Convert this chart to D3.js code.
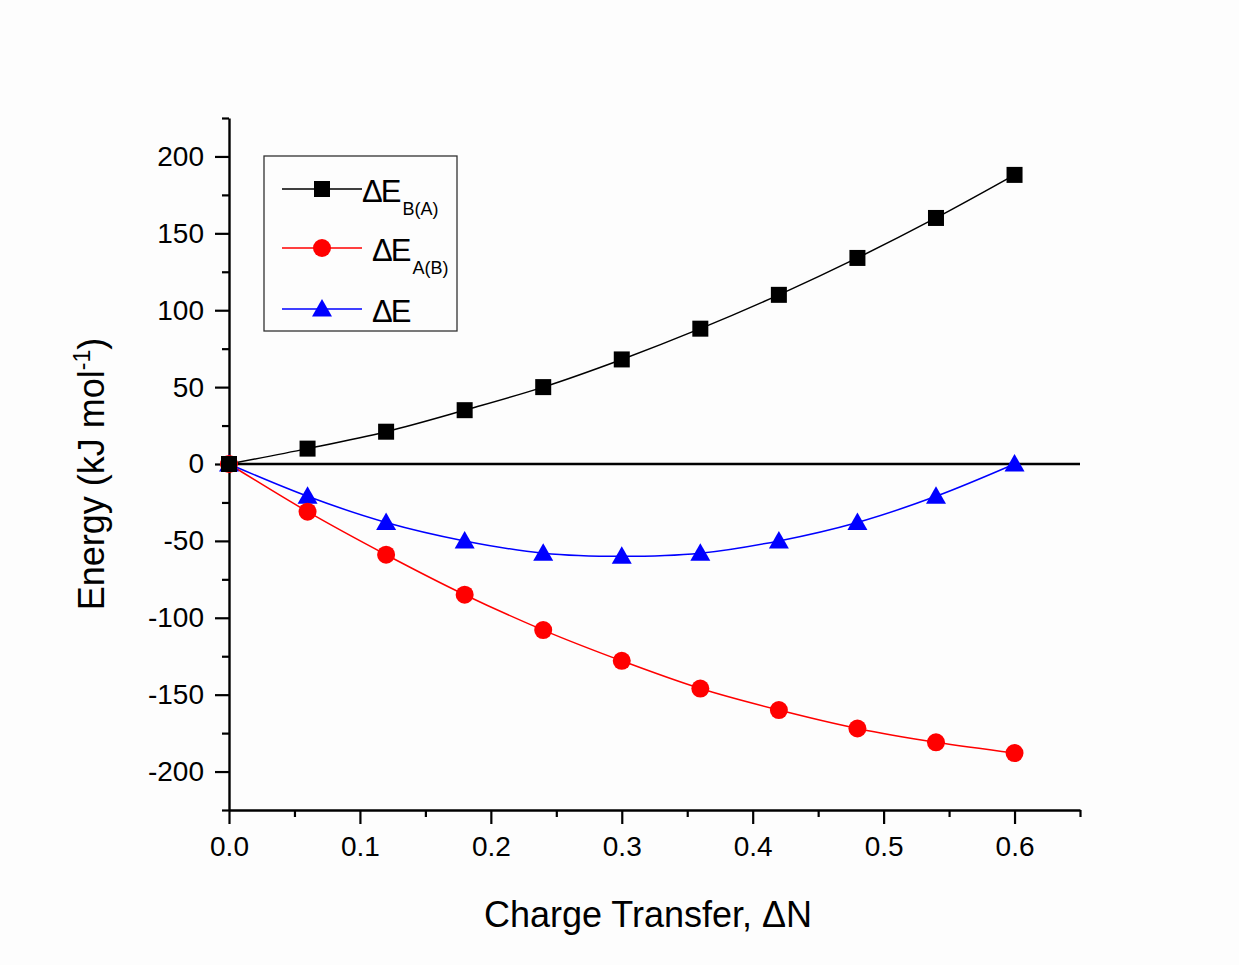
<!DOCTYPE html>
<html>
<head>
<meta charset="utf-8">
<script src="https://cdn.jsdelivr.net/npm/d3@7"></script>
<style>
    body { margin: 0; background: #fdfdfd; }
    svg { display: block; font-family: "Liberation Sans", Arial, sans-serif; }
</style>
</head>
<body>
<div id="chart"></div>
<script>
    // charge transfer values
    const deltaN = [0, 0.06, 0.12, 0.18, 0.24, 0.30, 0.36, 0.42, 0.48, 0.54, 0.60];
    // series values (kJ/mol)
    const eBA = [0, 10, 21, 35, 50, 68, 88, 110, 134, 160, 188];
    const eAB = [0, -31, -59, -85, -108, -128, -146, -160, -172, -181, -188];
    const eTot = [0, -21, -38, -50, -58, -60, -58, -50, -38, -21, 0];

    const xTicks = [0, 0.1, 0.2, 0.3, 0.4, 0.5, 0.6];
    const yTicks = [-200, -150, -100, -50, 0, 50, 100, 150, 200];

    let width = 1239, height = 965;
    const margin = { left: 229, right: 1239 - 1080, top: 118, bottom: 965 - 810 };

    const series = [
        { name: "B(A)", values: eBA, color: "#000000", shape: "square" },
        { name: "A(B)", values: eAB, color: "#ff0000", shape: "circle" },
        { name: "", values: eTot, color: "#0000ff", shape: "triangle" }
    ];

    const svg = d3.select("#chart")
        .append("svg")
        .attr("width", width)
        .attr("height", height);

    const x = d3.scaleLinear().domain([0, 0.65]).range([margin.left, width - margin.right]);
    const y = d3.scaleLinear().domain([-225, 225]).range([height - margin.bottom, margin.top]);

    // axes
    svg.append("g")
        .attr("transform", `translate(0,${height - margin.bottom})`)
        .call(d3.axisBottom(x).tickValues(xTicks).tickFormat(d3.format(".1f")).tickSize(14).tickSizeOuter(0).tickPadding(12));
    svg.append("g")
        .attr("transform", `translate(0,${height - margin.bottom})`)
        .call(d3.axisBottom(x).tickValues(d3.range(0.05, 0.66, 0.1)).tickFormat("").tickSize(7).tickSizeOuter(0))
        .select(".domain").remove();

    svg.append("g")
        .attr("transform", `translate(${margin.left},0)`)
        .call(d3.axisLeft(y).tickValues(yTicks).tickFormat(d => String(d)).tickSize(14).tickSizeOuter(0).tickPadding(11));
    svg.append("g")
        .attr("transform", `translate(${margin.left},0)`)
        .call(d3.axisLeft(y).tickValues(d3.range(-225, 226, 50)).tickFormat("").tickSize(7).tickSizeOuter(0))
        .select(".domain").remove();

    svg.selectAll(".domain").attr("stroke-width", 2.4);
    svg.selectAll(".tick line").attr("stroke-width", 2.2);
    svg.selectAll(".tick text").attr("font-size", 28).attr("fill", "#000");

    // zero line
    svg.append("line")
        .attr("x1", x(0)).attr("x2", x(0.65))
        .attr("y1", y(0)).attr("y2", y(0))
        .attr("stroke", "#000")
        .attr("stroke-width", 2.4);

    const line = d3.line()
        .x((d, i) => x(deltaN[i]))
        .y(d => y(d))
        .curve(d3.curveCatmullRom.alpha(0.5));

    function drawMarker(sel, shape, color) {
        if (shape === "square") {
            sel.append("rect").attr("x", -8).attr("y", -8).attr("width", 16).attr("height", 16).attr("fill", color);
        } else if (shape === "circle") {
            sel.append("circle").attr("r", 9).attr("fill", color);
        } else {
            sel.append("path").attr("d", "M0,-10L10,7.5L-10,7.5Z").attr("fill", color);
        }
    }

    // draw series (lines first, then markers)
    series.slice().reverse().forEach(s => {
        svg.append("path")
            .datum(s.values)
            .attr("fill", "none")
            .attr("stroke", s.color)
            .attr("stroke-width", 1.5)
            .attr("d", line);
    });
    series.slice().reverse().forEach(s => {
        svg.append("g")
            .selectAll("g")
            .data(s.values)
            .join("g")
            .attr("transform", (d, i) => `translate(${x(deltaN[i])},${y(d)})`)
            .each(function() { drawMarker(d3.select(this), s.shape, s.color); });
    });

    // axis titles
    svg.append("text")
        .attr("x", 648)
        .attr("y", 927)
        .attr("text-anchor", "middle")
        .attr("font-size", 36)
        .text("Charge Transfer, \u0394N");

    const yTitle = svg.append("text")
        .attr("transform", `translate(104,474) rotate(-90)`)
        .attr("text-anchor", "middle")
        .attr("font-size", 36);
    yTitle.append("tspan").text("Energy (kJ mol");
    yTitle.append("tspan").attr("font-size", 23).attr("dy", -14).text("-1");
    yTitle.append("tspan").attr("dy", 14).text(")");

    // legend
    const legend = svg.append("g");
    legend.append("rect")
        .attr("x", 264).attr("y", 156)
        .attr("width", 193).attr("height", 175)
        .attr("fill", "none")
        .attr("stroke", "#333")
        .attr("stroke-width", 1.3);

    const legendRows = [189, 248, 309];
    series.forEach((s, i) => {
        const row = legend.append("g").attr("transform", `translate(0,${legendRows[i]})`);
        row.append("line").attr("x1", 282).attr("x2", 362).attr("stroke", s.color).attr("stroke-width", 1.5);
        drawMarker(row.append("g").attr("transform", "translate(322,0)"), s.shape, s.color);
        const t = row.append("text")
            .attr("x", i === 0 ? 362 : 372)
            .attr("y", 13)
            .attr("font-size", 31)
            .attr("letter-spacing", -2);
        t.append("tspan").text("\u0394E");
        if (s.name) t.append("tspan").attr("font-size", 18).attr("letter-spacing", 0).attr("dx", 3).attr("dy", 13).text(s.name);
    });
</script>
</body>
</html>
